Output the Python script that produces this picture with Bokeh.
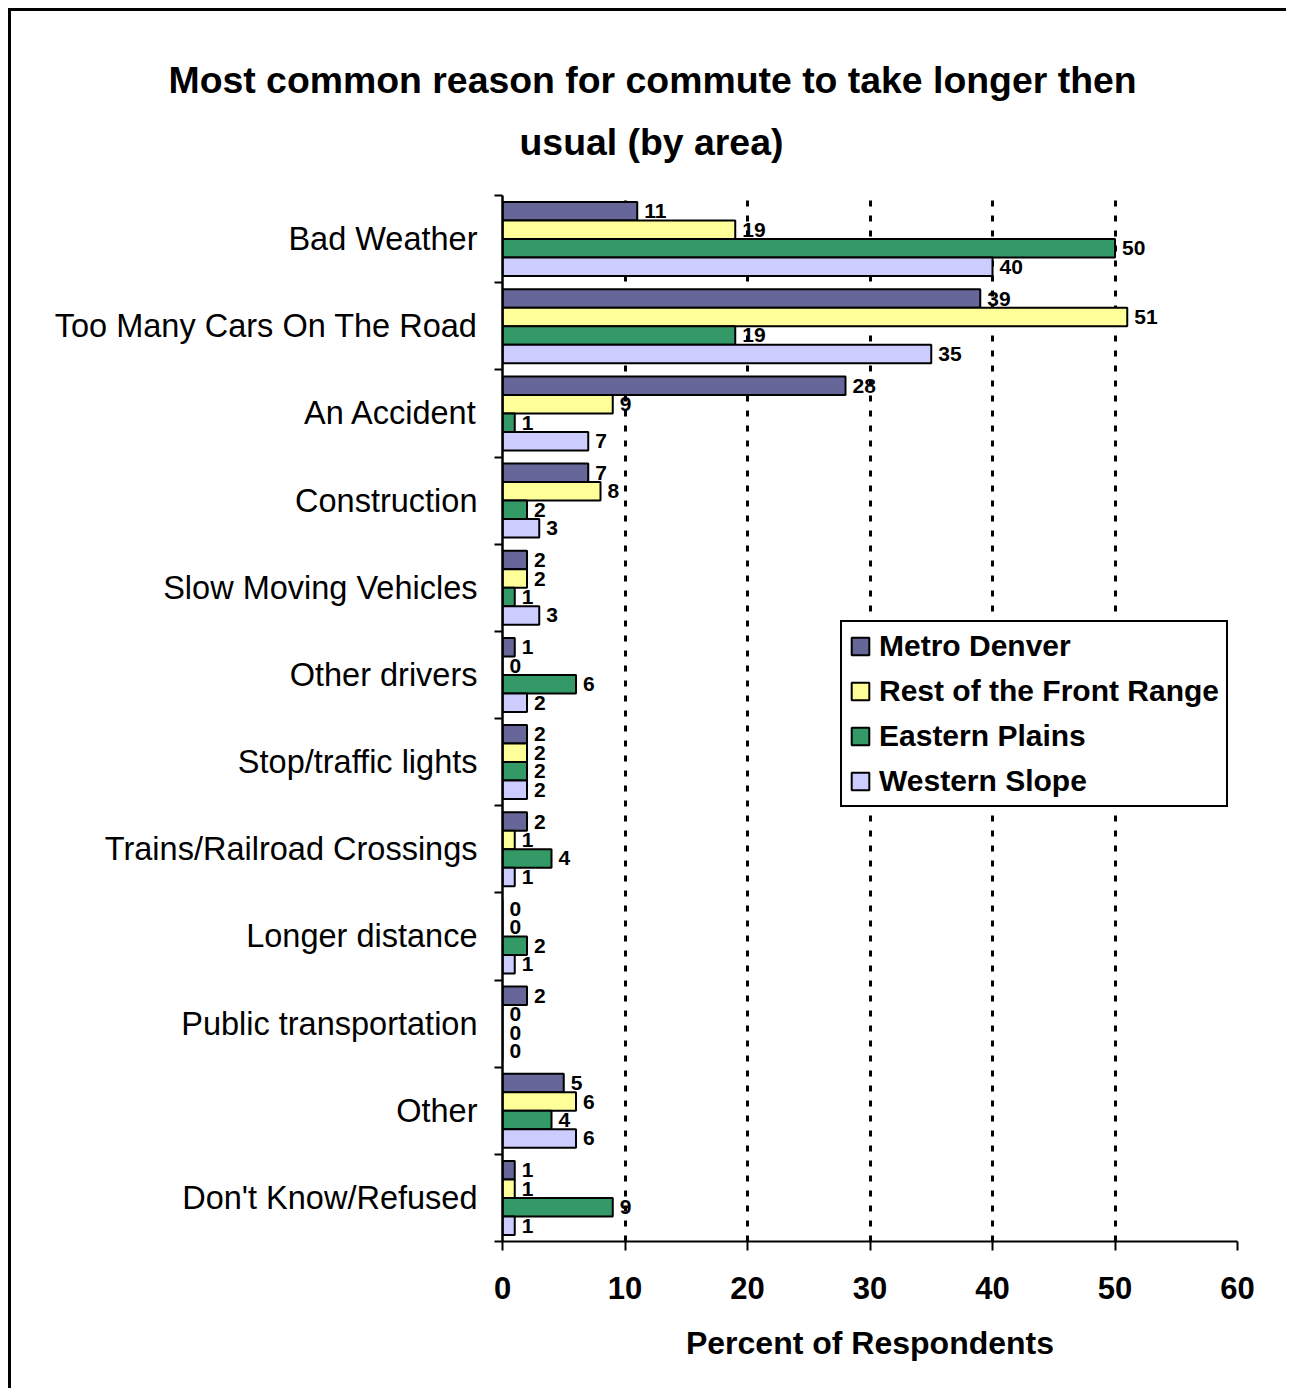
from bokeh.plotting import figure
from bokeh.models import (ColumnDataSource, Range1d, LinearAxis, Title,
                          FixedTicker, Grid, Legend, LegendItem)
from bokeh.core.properties import value
from bokeh.embed import file_html
from bokeh.resources import INLINE

categories = ["Bad Weather", "Too Many Cars On The Road", "An Accident", "Construction",
              "Slow Moving Vehicles", "Other drivers", "Stop/traffic lights",
              "Trains/Railroad Crossings", "Longer distance", "Public transportation",
              "Other", "Don't Know/Refused"]
series_names = ["Metro Denver", "Rest of the Front Range", "Eastern Plains", "Western Slope"]
metro_denver = [11, 39, 28, 7, 2, 1, 2, 2, 0, 2, 5, 1]
rest_front_range = [19, 51, 9, 8, 2, 0, 2, 1, 0, 0, 6, 1]
eastern_plains = [50, 19, 1, 2, 1, 6, 2, 4, 2, 0, 4, 9]
western_slope = [40, 35, 7, 3, 3, 2, 2, 1, 1, 0, 6, 1]
x_ticks = [0, 10, 20, 30, 40, 50, 60]
title_lines = ["Most common reason for commute to take longer then", "usual (by area)"]
x_label = "Percent of Respondents"

colors = ["#666699", "#FFFF99", "#339966", "#CCCCFF"]
series_values = [metro_denver, rest_front_range, eastern_plains, western_slope]

FONT = "Liberation Sans"
N = len(categories)
BAR_H = 0.212
offsets = [1.5 * BAR_H, 0.5 * BAR_H, -0.5 * BAR_H, -1.5 * BAR_H]
centers = [N - 0.5 - i for i in range(N)]
bounds = list(range(N + 1))

p = figure(width=1278, height=1380, x_range=Range1d(0, 60), y_range=Range1d(0, N),
           output_backend="svg", toolbar_location=None, y_axis_location=None,
           x_axis_location="below", title=None,
           min_border_left=491, min_border_right=52, min_border_top=184, min_border_bottom=150)
p.styles = {"margin-left": "8px", "margin-top": "8px",
            "border-left": "3px solid black", "border-top": "3px solid black"}
p.outline_line_color = None
p.background_fill_color = "white"
p.border_fill_color = "white"

# title: two lines, centred on the page (not on the plot area)
title_offsets = [-334, 17]
title_standoffs = [-28.5, 64.5]
for line, off, so in reversed(list(zip(title_lines, title_offsets, title_standoffs))):
    p.add_layout(Title(text=line, align="left", offset=off, standoff=so,
                       text_font=FONT, text_font_size="37.4px", text_font_style="bold",
                       text_color="black"), "above")

# x axis
xa = p.xaxis[0]
xa.ticker = FixedTicker(ticks=x_ticks)
xa.axis_line_width = 2
xa.axis_line_color = "black"
xa.major_tick_out = 9
xa.major_tick_in = 0
xa.major_tick_line_width = 2
xa.minor_tick_line_color = None
xa.major_label_text_font = FONT
xa.major_label_text_font_style = "bold"
xa.major_label_text_font_size = "31px"
xa.major_label_text_color = "black"
xa.major_label_standoff = 26
xa.axis_label = x_label
xa.axis_label_text_font = FONT
xa.axis_label_text_font_style = "bold"
xa.axis_label_text_font_size = "32px"
xa.axis_label_text_color = "black"
xa.axis_label_standoff = 23

# grids
p.xgrid.ticker = FixedTicker(ticks=x_ticks[1:-1])
p.xgrid.grid_line_color = "black"
p.xgrid.grid_line_width = 3
p.xgrid.grid_line_dash = "6 9"
for g in p.ygrid:
    g.visible = False
edge_grid = Grid(dimension=0, ticker=FixedTicker(ticks=x_ticks[-1:]),
                 grid_line_color="#888888", grid_line_width=1.5, grid_line_dash="6 9")
p.add_layout(edge_grid)

# y axis: labels at category centres, boundary ticks as minor ticks
ya = LinearAxis(ticker=FixedTicker(ticks=centers, minor_ticks=bounds),
                major_label_overrides={c: name for c, name in zip(centers, categories)},
                axis_line_color="black", axis_line_width=2.5,
                major_tick_line_color=None, major_tick_out=0, major_tick_in=0,
                minor_tick_line_color="black", minor_tick_line_width=2,
                minor_tick_out=8, minor_tick_in=0,
                major_label_text_font=FONT, major_label_text_font_size="32.5px",
                major_label_text_color="black", major_label_standoff=17)
p.add_layout(ya, "left")

# bars + labels
items = []
for name, vals, col, off in zip(series_names, series_values, colors, offsets):
    ys = [c + off for c in centers]
    src = ColumnDataSource(dict(y=ys, val=vals, lab=[str(v) for v in vals]))
    r = p.hbar(y="y", right="val", left=0, height=BAR_H,
               source=src, fill_color=col, line_color="black", line_width=2)
    p.text(x="val", y="y", text="lab", source=src,
           x_offset=7, text_baseline="middle", text_align="left",
           text_font=value(FONT), text_font_style="bold", text_font_size="21px",
           text_color="black")
    items.append(LegendItem(label=name, renderers=[r]))

legend = Legend(items=items, location=(338, 434), border_line_color="black",
                border_line_alpha=1, border_line_width=2,
                background_fill_color="white", background_fill_alpha=1,
                label_text_font=FONT, label_text_font_style="bold", label_text_font_size="30px",
                label_text_color="black", glyph_width=22, glyph_height=22, label_standoff=8,
                padding=7, spacing=11, label_height=34, margin=0)
p.add_layout(legend, "center")

open("out.html", "w").write(file_html(p, INLINE))
